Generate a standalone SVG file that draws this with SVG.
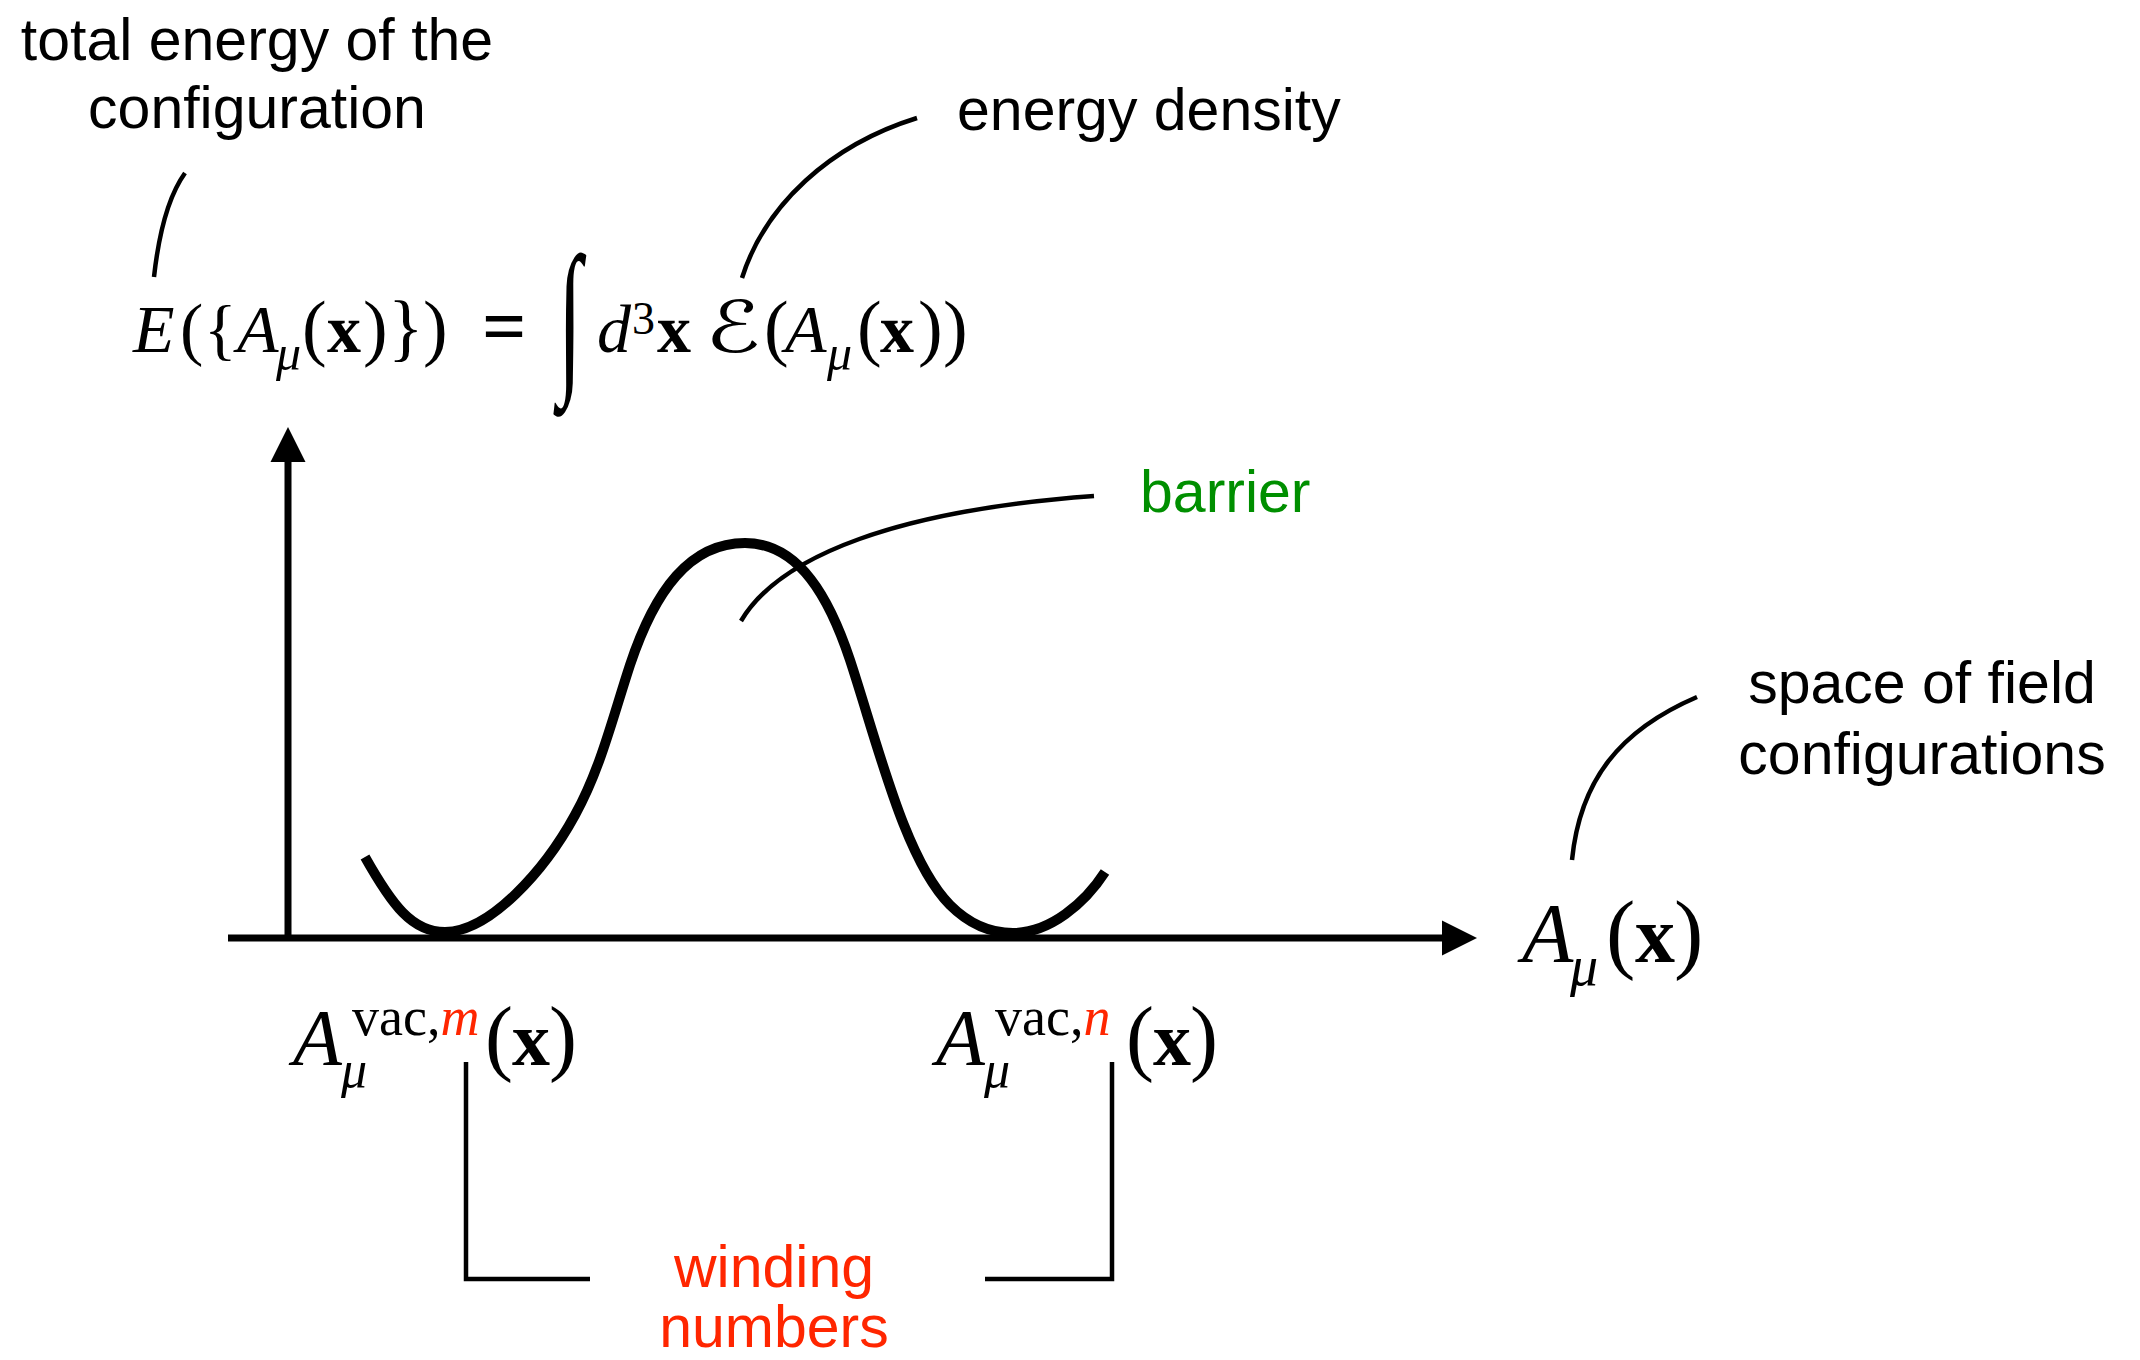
<svg xmlns="http://www.w3.org/2000/svg" width="2140" height="1360" viewBox="0 0 2140 1360">
<style>
.lbl{font-family:"Liberation Sans",Arial,sans-serif;font-size:59px;fill:#000}
.ctr{text-anchor:middle}
.grn{fill:#008F00}
.red{fill:#FF2600}
.m{font-family:"Liberation Serif","Times New Roman",serif;fill:#000}
.i{font-style:italic}
.b{font-weight:bold}
.lead{fill:none;stroke:#000;stroke-width:4.5}
.axis{fill:none;stroke:#000;stroke-width:7}
.curve{fill:none;stroke:#000;stroke-width:10}
.brk{fill:none;stroke:#000;stroke-width:4.5}
</style>
<rect width="2140" height="1360" fill="#fff"/>

<g id="label-total-energy">
<text class="lbl ctr" x="257" y="60">total energy of the</text>
<text class="lbl ctr" x="257" y="128">configuration</text>
</g>

<g id="label-energy-density">
<text class="lbl" x="957" y="130">energy density</text>
</g>

<g id="formula">
<text class="m" font-size="68" y="352"><tspan x="133" class="i">E</tspan><tspan x="180" font-size="70">(</tspan><tspan x="204" font-size="68">{</tspan><tspan x="237" class="i">A</tspan><tspan x="276" y="370" class="i" font-size="50">μ</tspan><tspan x="302" y="352" font-size="74">(</tspan><tspan x="327" class="b">x</tspan><tspan x="363" font-size="74">)</tspan><tspan x="388" font-size="74">}</tspan><tspan x="423" font-size="74">)</tspan></text>
<text class="m b" font-size="78" x="482" y="352">=</text>
<text x="0" y="0" class="m" font-size="68" transform="translate(558,372) scale(1.28,2.46)">∫</text>
<text class="m" font-size="68" y="352"><tspan x="597" class="i">d</tspan><tspan x="632" y="334" font-size="46">3</tspan><tspan x="657" y="352" class="b">x</tspan></text>
<text x="0" y="0" font-size="68" font-family="'Liberation Serif','DejaVu Serif','DejaVu Sans',serif" font-style="italic" transform="translate(705,352) scale(1.35,1.05)">ℰ</text>
<text class="m" font-size="68" y="352"><tspan x="764" font-size="74">(</tspan><tspan x="785" class="i">A</tspan><tspan x="827" y="370" class="i" font-size="50">μ</tspan><tspan x="857" y="352" font-size="74">(</tspan><tspan x="880" class="b">x</tspan><tspan x="918" font-size="74">)</tspan><tspan x="943" font-size="74">)</tspan></text>
</g>

<g id="label-barrier">
<text class="lbl grn" x="1140" y="512" font-size="60">barrier</text>
</g>

<g id="label-space">
<text class="lbl ctr" x="1922" y="703">space of field</text>
<text class="lbl ctr" x="1922" y="774">configurations</text>
</g>

<g id="label-A-axis">
<text class="m" font-size="84" y="962"><tspan x="1522" class="i">A</tspan><tspan x="1570" y="985" class="i" font-size="56">μ</tspan><tspan x="1606" y="962" font-size="88">(</tspan><tspan x="1635" class="b" font-size="80">x</tspan><tspan x="1674" font-size="88">)</tspan></text>
</g>

<g id="label-vac-m">
<text class="m" font-size="80" y="1065"><tspan x="293" class="i">A</tspan><tspan x="341" y="1087" class="i" font-size="52">μ</tspan><tspan x="352" y="1035" font-size="54">vac,</tspan><tspan class="i red" font-size="54">m</tspan><tspan x="485" y="1065" font-size="84">(</tspan><tspan x="512" class="b" font-size="76">x</tspan><tspan x="549" font-size="84">)</tspan></text>
</g>

<g id="label-vac-n">
<text class="m" font-size="80" y="1065"><tspan x="936" class="i">A</tspan><tspan x="984" y="1087" class="i" font-size="52">μ</tspan><tspan x="995" y="1035" font-size="54">vac,</tspan><tspan class="i red" font-size="54">n</tspan><tspan x="1126" y="1065" font-size="84">(</tspan><tspan x="1153" class="b" font-size="76">x</tspan><tspan x="1190" font-size="84">)</tspan></text>
</g>

<g id="label-winding">
<text class="lbl ctr red" x="774" y="1287">winding</text>
<text class="lbl ctr red" x="774" y="1347">numbers</text>
</g>

<g id="energy-curve">
<path class="curve" d="M365,857 C392,905 412,932 445,932 C490,932 545,870 575,815 C600,770 612,720 630,665 C655,590 690,543 745,543 C800,543 830,600 850,660 C878,745 905,860 950,905 C970,925 990,933 1013,933 C1050,933 1085,903 1105,872"/>
</g>

<g id="connectors">
<line class="axis" x1="288" y1="938" x2="288" y2="458"/>
<polygon points="288,427 270.5,462 305.5,462" fill="#000"/>
<line class="axis" x1="228" y1="938" x2="1447" y2="938"/>
<polygon points="1477,938 1442,920.5 1442,955.5" fill="#000"/>
<path class="lead" d="M185,173 Q162,205 154,277"/>
<path class="lead" d="M742,278 C765,205 830,145 917,118"/>
<path class="lead" d="M741,621 C780,555 900,510 1094,496"/>
<path class="lead" d="M1572,860 C1580,780 1620,730 1697,697"/>
<path class="brk" d="M466,1062 V1279 H590"/>
<path class="brk" d="M1112,1062 V1279 H985"/>
</g>
</svg>
